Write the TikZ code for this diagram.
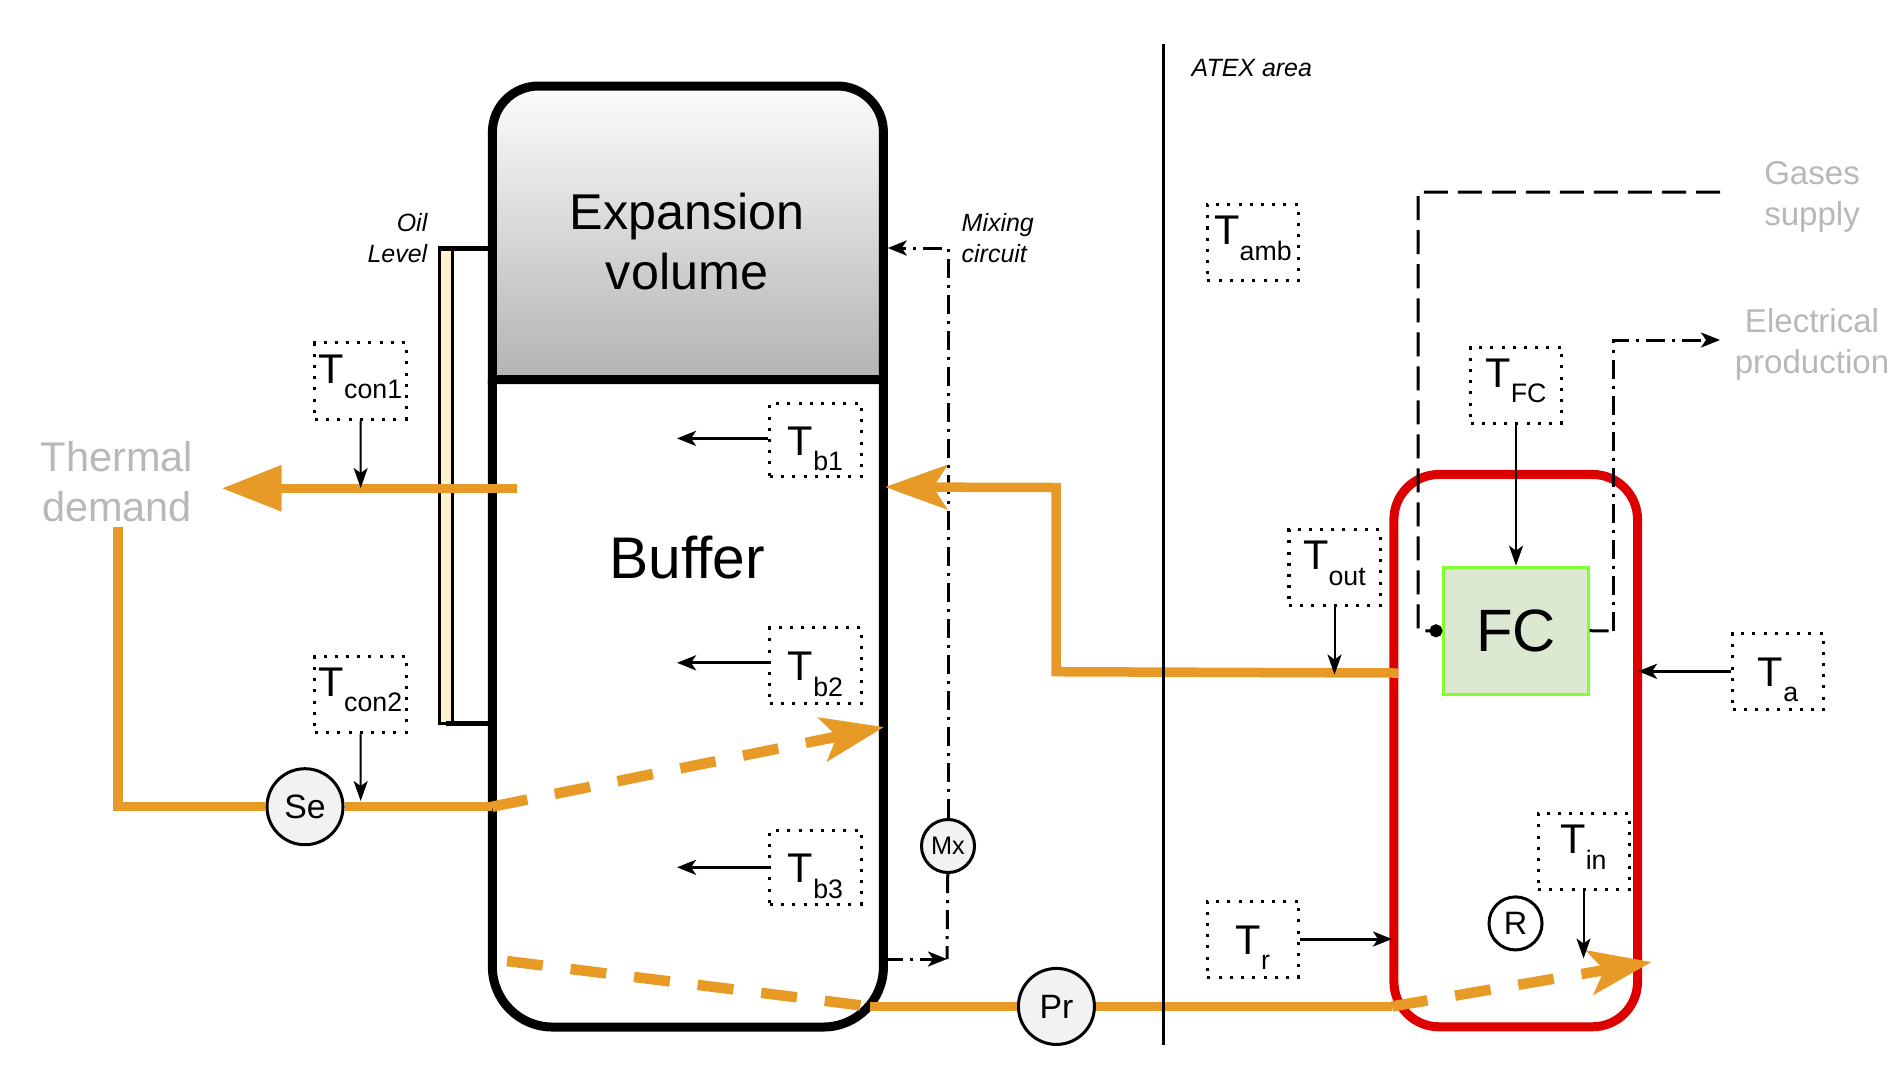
\documentclass[tikz,border=0pt]{standalone}
\usepackage{fontspec}
\setmainfont{Liberation Sans}
\usetikzlibrary{arrows.meta,positioning}

\definecolor{pipeorange}{HTML}{E89A26}
\definecolor{fcred}{HTML}{DD0000}
\definecolor{fcgreen}{HTML}{80FF33}
\definecolor{fcfill}{HTML}{DDE8D3}
\definecolor{oilyellow}{HTML}{FFF2CC}
\definecolor{labelgrey}{HTML}{B8B8B8}

\tikzstyle{sensor} = [rectangle, draw=black, line width=.03cm, dash pattern=on .03cm off .082cm, minimum width=.91cm, inner sep=0pt, text height=.40cm, text depth=.36cm, font=\fontsize{11.8}{14}\selectfont]
\tikzstyle{sensorlow} = [sensor, text height=.53cm, text depth=.23cm]
\tikzstyle{sensorshort} = [sensor, text height=.52cm, text depth=.215cm]
\tikzstyle{bigvalve} = [circle, draw=black, line width=.03cm, fill=black!5, minimum size=.76cm, inner sep=0pt, font=\fontsize{9.6}{11}\selectfont]
\tikzstyle{smallvalve} = [bigvalve, minimum size=.53cm, font=\fontsize{7.2}{9}\selectfont]
\tikzstyle{tanktext} = [align=center, font=\fontsize{14.3}{16.9}\selectfont]
\tikzstyle{greytext} = [align=center, text=labelgrey, font=\fontsize{9.4}{11.6}\selectfont]
\tikzstyle{note} = [inner sep=0pt, font=\fontsize{7.1}{8.9}\selectfont\itshape]
\tikzstyle{tankwall} = [line width=.09cm, draw=black]
\tikzstyle{arrow} = [line width=.02cm,->,>={Stealth[length=.2cm,width=.14cm,inset=.05cm]}]
\tikzstyle{thickarrow} = [line width=.03cm,->,>={Stealth[length=.19cm,width=.15cm,inset=.05cm]}]
\tikzstyle{mixline} = [line width=.03cm, dash pattern=on .19cm off .07cm on .03cm off .07cm]
\tikzstyle{mixarrow} = [mixline,->,>={Stealth[length=.19cm,width=.15cm,inset=.05cm]}]
\tikzstyle{pipe} = [line width=.095cm, draw=pipeorange]
\tikzstyle{pipedash} = [pipe, line width=.105cm, dash pattern=on .36cm off .28cm]
\tikzstyle{pipearrow} = [->,>={Stealth[length=.62cm,width=.44cm,inset=.14cm]}]

\newcommand{\tlabel}[1]{T\raisebox{-.155cm}{\fontsize{7.6}{9}\selectfont #1}}

\begin{document}
\begin{tikzpicture}[x=.01cm, y=-.01cm]
  \useasboundingbox (0,0) rectangle (1904,1075);

  % oil gauge and tank
  \node (oil) [rectangle, draw=black, line width=.03cm, fill=oilyellow, minimum width=.127cm, minimum height=4.75cm, inner sep=0pt] at (446,485.5) {};
  \coordinate (oiltop) at (492,248);
  \coordinate (oilbot) at (492,723);
  \draw [line width=.05cm] (oiltop -| oil.west) -- (oiltop);
  \draw [line width=.05cm] (oilbot -| oil.south) -- (oilbot);
  \draw [tankwall, top color=black!1, bottom color=black!30] (492.4,379.5) [rounded corners=.46cm] -- (492.4,86) -- (883.4,86) -- (883.4,200) [sharp corners] -- (883.4,379.5) -- cycle;
  \draw [tankwall] (492.4,379.5) [rounded corners=.6cm] -- (492.4,1027) -- (883.4,1027) -- (883.4,850) [sharp corners] -- (883.4,379.5);

  % fuel cell
  \node (fccase) [rectangle, rounded corners=.45cm, draw=fcred, line width=.09cm, minimum width=2.435cm, minimum height=5.52cm] at (1515.7,750.6) {};
  \node (fc) [rectangle, draw=fcgreen, fill=fcfill, line width=.03cm, minimum width=1.44cm, minimum height=1.27cm, font=\fontsize{17}{19}\selectfont] at (1516,630.7) {FC};

  % texts
  \node (expansion) [tanktext] at (687,241.5) {Expansion\\volume};
  \node (buffer) [tanktext, font=\fontsize{16.7}{19}\selectfont] at (687,557.5) {Buffer};
  \node (demand) [greytext, font=\fontsize{11.8}{14.2}\selectfont] at (117,481.5) {Thermal\\demand};
  \node (gases) [greytext] at (1812,196.5) {Gases\\supply};
  \node (power) [greytext] at (1812,344.5) {Electrical\\production};
  \node (oillabel) [note, align=right, anchor=east] at (428,238) {Oil\\Level};
  \node (mixlabel) [note, align=left, anchor=west] at (961,238) {Mixing\\circuit};
  \node (atex) [note, anchor=west] at (1191,68) {ATEX area};

  % sensors
  \node (tcon1) [sensor] at (360.5,381) {\tlabel{con1}};
  \node (tcon2) [sensor, below of=tcon1, node distance=3.13cm] {\tlabel{con2}};
  \node (tb1) [sensorshort] at (815.5,440) {\tlabel{b1}};
  \node (tb2) [sensorlow, below of=tb1, node distance=2.255cm] {\tlabel{b2}};
  \node (tb3) [sensorshort, below of=tb2, node distance=2.015cm] {\tlabel{b3}};
  \node (tamb) [sensor] at (1253,242.5) {\tlabel{amb}};
  \node (tfc) [sensor, above of=fc, node distance=2.455cm] {\tlabel{FC}};
  \node (tout) [sensor] at (1334.5,567.5) {\tlabel{out}};
  \node (ta) [sensorlow] at (1778,671.3) {\tlabel{a}};
  \node (tin) [sensor] at (1583.5,851.5) {\tlabel{in}};
  \node (tr) [sensorlow] at (1253,939) {\tlabel{r}};

  % pumps
  \node (se) [bigvalve] at (305,806.7) {Se};
  \node (pr) [bigvalve] at (1056.4,1006.4) {Pr};
  \node (mx) [smallvalve] at (948,846) {Mx};
  \node (reg) [smallvalve, fill=none, font=\fontsize{9.2}{11}\selectfont] at (1515.5,923.4) {R};

  % free ends
  \coordinate (bufleft) at (677,438.4);
  \coordinate (bufmid) at (677,662.8);
  \coordinate (buflow) at (677,867.3);
  \coordinate (demandline) at (360.7,488);
  \coordinate (seline) at (360.7,801);
  \coordinate (outline) at (1334.5,674.5);
  \coordinate (inline) at (1583.5,958.5);
  \coordinate (taend) at (1638,671.5);
  \coordinate (trend) at (1392,938.6);
  \coordinate (mixout) at (884,959);
  \coordinate (mixbot) at (947,959);
  \coordinate (mixtop) at (887.7,248);
  \coordinate (gasstart) at (1720,192);
  \coordinate (gasdown) at (1418,631);
  \coordinate (powercorner) at (1613,631);
  \coordinate (powerend) at (1720,340);

  % mixing circuit
  \draw [mixline] (mx) -- (mixbot);
  \draw [mixarrow] (mixout) -- (mixbot);
  \draw [mixarrow] (mx) |- (mixtop);

  % fuel cell gases and power
  \draw [line width=.03cm, dash pattern=on .24cm off .1cm, -{Circle[length=.13cm]}] (gasstart) -| (gasdown) -- (fc.west);
  \draw [mixline] (fc.east) -- (powercorner);
  \draw [mixarrow] (powercorner) |- (powerend);

  % thermal demand loop
  \coordinate (tankhot) at (516.7,488.3);
  \coordinate (demandtip) at (221.6,488.3);
  \coordinate (demandbot) at (118,527);
  \coordinate (tankin) at (492,806.7);
  \coordinate (tankintip) at (884,727);
  \draw [pipe, ->, >={Triangle[length=.6cm,width=.44cm]}] (tankhot) -- (demandtip);
  \draw [pipe] (demandbot) |- (se);
  \draw [pipe] (se) -- (tankin);
  \draw [pipedash, pipearrow] (tankin) -- (tankintip);

  % fuel cell loop
  \coordinate (tanklow) at (507,961);
  \coordinate (tankout) at (869.5,1006.4);
  \coordinate (fcin) at (1392,1006.4);
  \coordinate (fcintip) at (1651.5,962);
  \coordinate (fcout) at (1398,673);
  \coordinate (retlow) at (1056,671.7);
  \coordinate (rethigh) at (1056,487.5);
  \coordinate (rettip) at (885,487);
  \draw [pipedash] (tanklow) -- (tankout);
  \draw [pipe] (tankout) -- (pr);
  \draw [pipe] (pr) -- (fcin);
  \draw [pipedash, pipearrow] (fcin) -- (fcintip);
  \draw [pipe, pipearrow, line join=miter] (fcout) -- (retlow) -- (rethigh) -- (rettip);

  % sensor arrows
  \draw [arrow] (tcon1) -- (demandline);
  \draw [arrow] (tcon2) -- (seline);
  \draw [arrow] (tout) -- (outline);
  \draw [arrow] (tfc) -- (fc);
  \draw [arrow] (tin) -- (inline);
  \draw [thickarrow] (bufleft -| tb1.west) -- (bufleft);
  \draw [thickarrow] (bufmid -| tb2.west) -- (bufmid);
  \draw [thickarrow] (buflow -| tb3.west) -- (buflow);
  \draw [thickarrow] (ta.west) -- (taend |- ta.west);
  \draw [thickarrow] (tr.east) -- (trend |- tr.east);

  % atex border
  \coordinate (atextop) at (1163.3,43.7);
  \coordinate (atexbot) at (1163.3,1045);
  \draw [line width=.03cm] (atextop) -- (atexbot);
\end{tikzpicture}
\end{document}
